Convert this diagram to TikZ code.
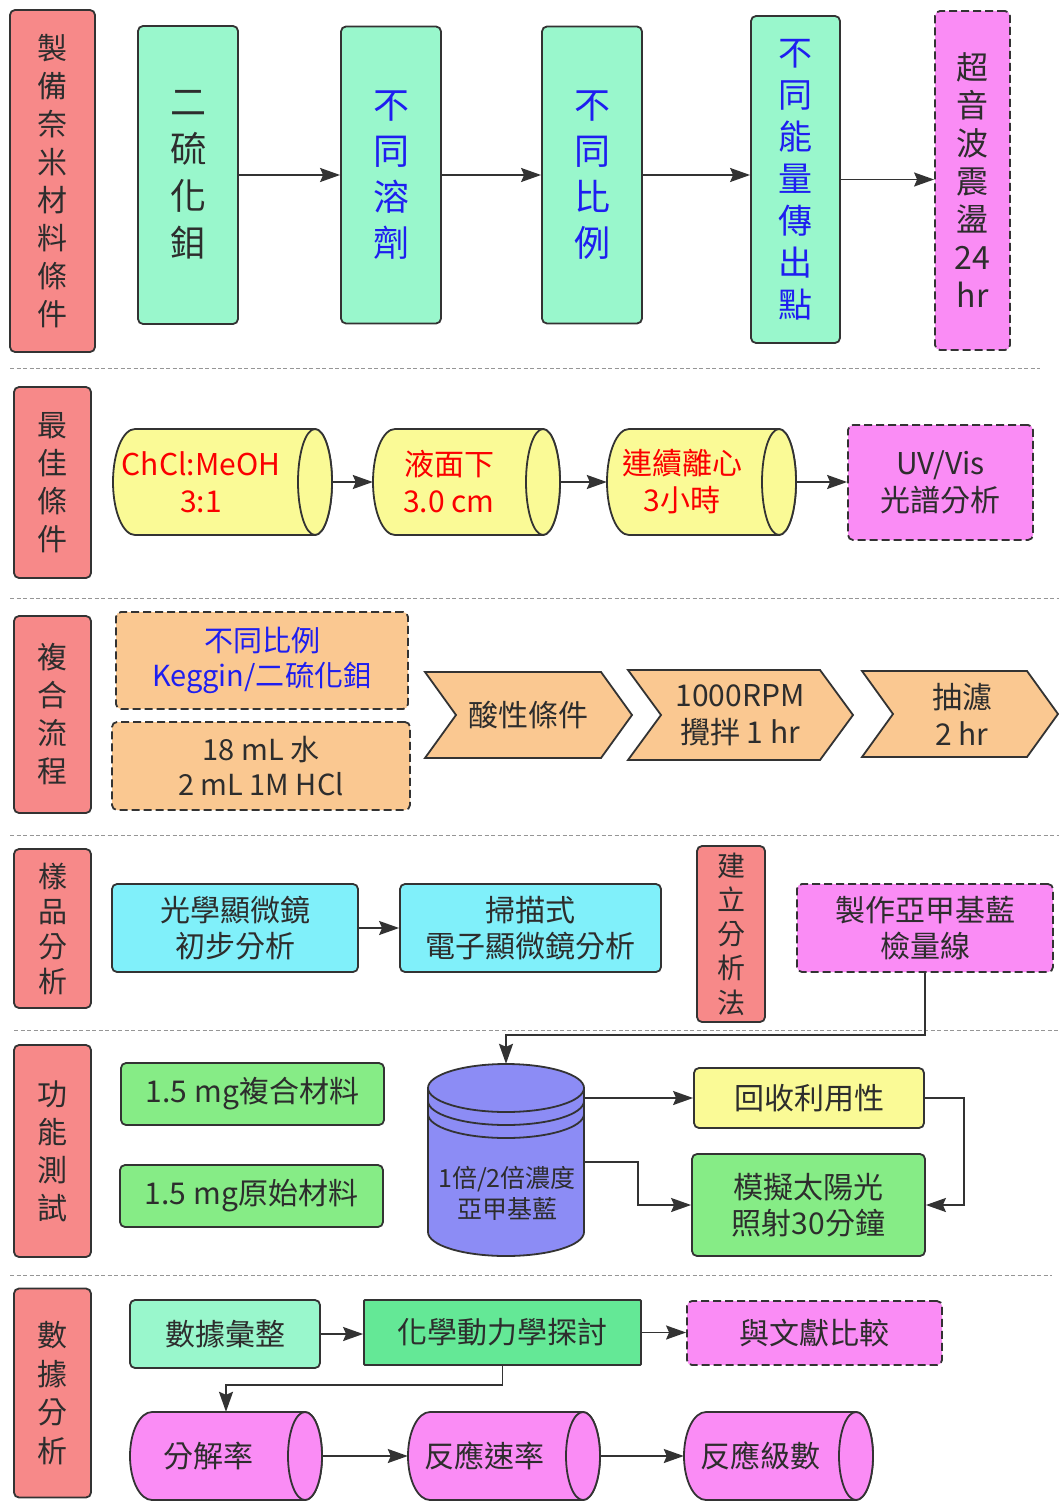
\documentclass[tikz,border=0pt]{standalone}
\usepackage{fontspec}
\setmainfont{Noto Sans CJK TC}
\usetikzlibrary{arrows.meta,calc}
\definecolor{edge}{RGB}{51,51,51}
\definecolor{txt}{RGB}{45,45,45}
\definecolor{lblred}{RGB}{247,137,137}
\definecolor{mint}{RGB}{153,247,204}
\definecolor{mintdark}{RGB}{100,232,150}
\definecolor{magent}{RGB}{250,140,245}
\definecolor{yelc}{RGB}{250,250,150}
\definecolor{peach}{RGB}{250,200,145}
\definecolor{cyanb}{RGB}{128,240,250}
\definecolor{greenb}{RGB}{134,236,134}
\definecolor{peri}{RGB}{140,140,245}
\definecolor{bluet}{RGB}{30,30,240}
\definecolor{redt}{RGB}{250,0,0}
\definecolor{sepgray}{RGB}{150,150,150}

\newcommand{\hcyl}[8]{%
  \path[draw=edge, line width=1.8pt, fill=#6] ({#4-17},#3) -- ({#2+22},#3)
    arc[start angle=270, end angle=90, x radius=22, y radius={(#5-#3)/2}]
    -- ({#4-17},#5)
    arc[start angle=90, end angle=-90, x radius=17, y radius={(#5-#3)/2}] -- cycle;
  \path[draw=edge, line width=1.8pt, fill=#6] ({#4-17},{(#3+#5)/2}) ellipse[x radius=17, y radius={(#5-#3)/2}];
  \node[inner sep=0pt, minimum width={(#4-#2)*1pt}, minimum height={(#5-#3)*1pt}] (#1) at ({(#2+#4)/2},{(#3+#5)/2}) {};
  \node[ctext] (#1t) at (#7,{(#3+#5)/2}) {#8};
}
\newcommand{\chev}[8]{%
  \path[draw=edge, line width=1.8pt, fill=peach] (#2,#3) -- ({#4-#6},#3) -- (#4,{(#3+#5)/2})
    -- ({#4-#6},#5) -- (#2,#5) -- ({#2+#6},{(#3+#5)/2}) -- cycle;
  \node[ctext] (#1) at (#7,{(#3+#5)/2}) {#8};
}

\begin{document}
\begin{tikzpicture}[x=1pt,y=-1pt,
  box/.style={draw=edge, line width=1.8pt, rounded corners=5pt, inner sep=0pt, text=txt, align=center, font=\fontsize{30}{37}\selectfont},
  dbox/.style={box, dash pattern=on 8pt off 4pt},
  lbl/.style={box, fill=lblred, font=\fontsize{30}{38}\selectfont},
  ctext/.style={inner sep=0pt, align=center, text=txt, font=\fontsize{30}{37}\selectfont},
  arr/.style={-{Stealth[length=20pt,width=14pt,inset=3pt]}, line width=1.8pt, draw=edge},
  sep/.style={draw=sepgray, line width=1pt, dash pattern=on 4pt off 2.5pt}
]
\useasboundingbox[fill=white] (0,0) rectangle (1059,1503);

% ---------- Row 1 ----------
\node[lbl, minimum width=85pt, minimum height=342pt] (L1) at (52.5,181) {製\\備\\奈\\米\\材\\料\\條\\件};
\node[box, fill=mint, minimum width=100pt, minimum height=298pt, font=\fontsize{36}{47}\selectfont] (B1) at (188,175) {二\\硫\\化\\鉬};
\node[box, fill=mint, minimum width=100pt, minimum height=297pt, text=bluet, font=\fontsize{36}{46}\selectfont] (B2) at (391,175) {不\\同\\溶\\劑};
\node[box, fill=mint, minimum width=100pt, minimum height=297pt, text=bluet, font=\fontsize{36}{46}\selectfont] (B3) at (592,175) {不\\同\\比\\例};
\node[box, fill=mint, minimum width=89pt, minimum height=327pt, text=bluet, font=\fontsize{34}{42}\selectfont] (B4) at (795.5,179.5) {不\\同\\能\\量\\傳\\出\\點};
\node[dbox, fill=magent, minimum width=75pt, minimum height=339pt, font=\fontsize{32}{38}\selectfont] (B5) at (972.5,180.5) {超\\音\\波\\震\\盪\\24\\hr};
\draw[arr] (B1.east) -- (B1.east -| B2.west);
\draw[arr] (B2.east) -- (B2.east -| B3.west);
\draw[arr] (B3.east) -- (B3.east -| B4.west);
\draw[arr] (B4.east) -- (B4.east -| B5.west);

\draw[sep] (10,368) -- (1040,368);

% ---------- Row 2 ----------
\node[lbl, minimum width=77pt, minimum height=191pt] (L2) at (52.5,482.5) {最\\佳\\條\\件};
\hcyl{C1}{113}{429}{332}{535}{yelc}{201}{\color{redt}ChCl:MeOH\\\color{redt}3:1}
\hcyl{C2}{373}{429}{560}{535}{yelc}{449}{\color{redt}液面下\\\color{redt}3.0 cm}
\hcyl{C3}{607}{429}{796}{535}{yelc}{682}{\color{redt}連續離心\\\color{redt}3小時}
\node[dbox, fill=magent, minimum width=185pt, minimum height=115pt] (U) at (940.5,482.5) {UV/Vis\\光譜分析};
\draw[arr] (C1.east) -- (C2.west);
\draw[arr] (C2.east) -- (C3.west);
\draw[arr] (C3.east) -- (C3.east -| U.west);

\draw[sep] (10,598) -- (1059,598);

% ---------- Row 3 ----------
\node[lbl, minimum width=77pt, minimum height=197pt] (L3) at (52.5,714.5) {複\\合\\流\\程};
\node[dbox, fill=peach, minimum width=292pt, minimum height=97pt, text=bluet, font=\fontsize{29}{35}\selectfont] (P1) at (262,660.5) {不同比例\\Keggin/二硫化鉬};
\node[dbox, fill=peach, minimum width=298pt, minimum height=88pt, font=\fontsize{29}{35}\selectfont] (P2) at (261,766) {18 mL 水\\2 mL 1M HCl};
\chev{H1}{425}{672}{632}{758}{31}{528}{酸性條件}
\chev{H2}{628}{670}{853}{760}{33}{740}{1000RPM\\攪拌 1 hr}
\chev{H3}{862}{671}{1058}{757}{31}{962}{抽濾\\2 hr}

\draw[sep] (10,835) -- (1059,835);

% ---------- Row 4 ----------
\node[lbl, minimum width=77pt, minimum height=159pt, font=\fontsize{29}{35}\selectfont] (L4) at (52.5,928.5) {樣\\品\\分\\析};
\node[box, fill=cyanb, minimum width=246pt, minimum height=88pt, font=\fontsize{30}{36}\selectfont] (S1) at (235,928) {光學顯微鏡\\初步分析};
\node[box, fill=cyanb, minimum width=261pt, minimum height=88pt, font=\fontsize{30}{36}\selectfont] (S2) at (530.5,928) {掃描式\\電子顯微鏡分析};
\node[lbl, minimum width=68pt, minimum height=176pt, font=\fontsize{28}{34.3}\selectfont] (L5) at (731,934) {建\\立\\分\\析\\法};
\node[dbox, fill=magent, minimum width=256pt, minimum height=88pt, font=\fontsize{30}{36}\selectfont] (M1) at (925,928) {製作亞甲基藍\\檢量線};
\draw[arr] (S1) -- (S2);

\draw[sep] (14,1030) -- (1059,1030);

% ---------- Row 5 ----------
\node[lbl, minimum width=77pt, minimum height=212pt] (L6) at (52.5,1151) {功\\能\\測\\試};
\node[box, fill=greenb, minimum width=263pt, minimum height=62pt] (G1) at (252.5,1094) {1.5 mg複合材料};
\node[box, fill=greenb, minimum width=263pt, minimum height=62pt] (G2) at (251.5,1196) {1.5 mg原始材料};
% vertical cylinder
\path[draw=edge, line width=1.8pt, fill=peri] (428,1088) -- (428,1232)
  arc[start angle=180, end angle=0, x radius=78, y radius=24] -- (584,1088) -- cycle;
\path[draw=edge, line width=1.8pt, fill=peri] (506,1088) ellipse[x radius=78, y radius=24];
\draw[edge, line width=1.8pt] (428,1101) arc[start angle=180, end angle=0, x radius=78, y radius=24];
\draw[edge, line width=1.8pt] (428,1114) arc[start angle=180, end angle=0, x radius=78, y radius=24];
\node[inner sep=0pt, minimum width=156pt, minimum height=192pt] (DB) at (506,1160) {};
\node[ctext, font=\fontsize{25}{31}\selectfont] (DBt) at (507,1193) {1倍/2倍濃度\\亞甲基藍};
\node[box, fill=yelc, minimum width=230pt, minimum height=60pt] (R1) at (809,1098) {回收利用性};
\node[box, fill=greenb, minimum width=233pt, minimum height=102pt, font=\fontsize{30}{36}\selectfont] (R2) at (808.5,1205) {模擬太陽光\\照射30分鐘};
\draw[arr] (M1.south) -- ++(0,62) -| (DB.north);
\draw[arr] (DB.east |- R1.west) -- (R1.west);
\draw[arr] (DB.east) ++(0,2) -- ++(54,0) |- (R2.west);
\draw[arr] (R1.east) -- ++(39,0) |- (R2.east);

\draw[sep] (10,1275) -- (1052,1275);

% ---------- Row 6 ----------
\node[lbl, minimum width=77pt, minimum height=209pt, font=\fontsize{30}{38.7}\selectfont] (L7) at (52.5,1393) {數\\據\\分\\析};
\node[box, fill=mint, minimum width=190pt, minimum height=68pt] (D1) at (225,1334) {數據彙整};
\node[box, fill=mintdark, rounded corners=1pt, minimum width=277pt, minimum height=65pt] (D2) at (502.5,1332.5) {化學動力學探討};
\node[dbox, fill=magent, minimum width=255pt, minimum height=64pt] (D3) at (814.5,1333) {與文獻比較};
\draw[arr] (D1.east) -- (D1.east -| D2.west);
\draw[arr] (D2.east) -- (D2.east -| D3.west);
\hcyl{E1}{130}{1412}{322}{1500}{magent}{208}{分解率}
\hcyl{E2}{408}{1412}{600}{1500}{magent}{484}{反應速率}
\hcyl{E3}{684}{1412}{873}{1500}{magent}{760}{反應級數}
\draw[arr] (D2.south) -- ++(0,19) -| (E1.north);
\draw[arr] (E1.east) -- (E2.west);
\draw[arr] (E2.east) -- (E3.west);
\end{tikzpicture}
\end{document}
